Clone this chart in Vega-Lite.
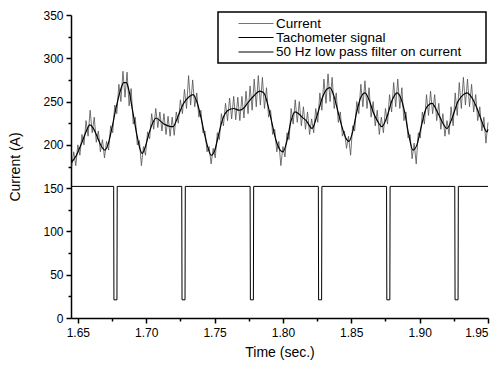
{
"$schema": "https://vega.github.io/schema/vega-lite/v6.json",
"width": 417, "height": 303,
"autosize": {"type": "none"},
"padding": {"left": 71, "top": 15, "right": 12, "bottom": 51},
"background": "white",
"config": {"view": {"stroke": null}, "font": "Liberation Sans",
  "axis": {"grid": false, "domainColor": "black", "tickColor": "black", "labelColor": "black", "titleColor": "black", "domainWidth": 1.5, "tickWidth": 1.5},
  "legend": {"orient": "none", "legendX": 147, "legendY": -3, "title": null, "symbolType": "M-2.5,0H2.5", "symbolSize": 196, "labelFontSize": 13.5, "labelOffset": 12, "symbolOffset": 26, "padding": 4, "rowPadding": 0, "strokeColor": "black", "fillColor": "white", "labelColor": "black", "labelLimit": 0}},
"data": {"values": [
{"t":1.6455,"v":175,"s":"Current"},{"t":1.6470,"v":192,"s":"Current"},{"t":1.6485,"v":176,"s":"Current"},{"t":1.6500,"v":200,"s":"Current"},{"t":1.6515,"v":188,"s":"Current"},{"t":1.6530,"v":212,"s":"Current"},{"t":1.6545,"v":200,"s":"Current"},{"t":1.6560,"v":228,"s":"Current"},{"t":1.6575,"v":210,"s":"Current"},{"t":1.6590,"v":240,"s":"Current"},
{"t":1.6605,"v":214,"s":"Current"},{"t":1.6620,"v":232,"s":"Current"},{"t":1.6635,"v":203,"s":"Current"},{"t":1.6650,"v":216,"s":"Current"},{"t":1.6665,"v":192,"s":"Current"},{"t":1.6680,"v":206,"s":"Current"},{"t":1.6695,"v":185,"s":"Current"},{"t":1.6710,"v":204,"s":"Current"},{"t":1.6725,"v":194,"s":"Current"},{"t":1.6740,"v":222,"s":"Current"},
{"t":1.6755,"v":214,"s":"Current"},{"t":1.6770,"v":246,"s":"Current"},{"t":1.6785,"v":236,"s":"Current"},{"t":1.6800,"v":270,"s":"Current"},{"t":1.6815,"v":250,"s":"Current"},{"t":1.6830,"v":285,"s":"Current"},{"t":1.6845,"v":255,"s":"Current"},{"t":1.6860,"v":284,"s":"Current"},{"t":1.6875,"v":245,"s":"Current"},{"t":1.6890,"v":265,"s":"Current"},
{"t":1.6905,"v":224,"s":"Current"},{"t":1.6920,"v":232,"s":"Current"},{"t":1.6935,"v":200,"s":"Current"},{"t":1.6950,"v":205,"s":"Current"},{"t":1.6965,"v":176,"s":"Current"},{"t":1.6980,"v":198,"s":"Current"},{"t":1.6995,"v":188,"s":"Current"},{"t":1.7010,"v":215,"s":"Current"},{"t":1.7025,"v":207,"s":"Current"},{"t":1.7040,"v":236,"s":"Current"},
{"t":1.7055,"v":218,"s":"Current"},{"t":1.7070,"v":242,"s":"Current"},{"t":1.7085,"v":220,"s":"Current"},{"t":1.7100,"v":238,"s":"Current"},{"t":1.7115,"v":216,"s":"Current"},{"t":1.7130,"v":236,"s":"Current"},{"t":1.7145,"v":212,"s":"Current"},{"t":1.7160,"v":233,"s":"Current"},{"t":1.7175,"v":210,"s":"Current"},{"t":1.7190,"v":232,"s":"Current"},
{"t":1.7205,"v":211,"s":"Current"},{"t":1.7220,"v":238,"s":"Current"},{"t":1.7235,"v":225,"s":"Current"},{"t":1.7250,"v":252,"s":"Current"},{"t":1.7265,"v":236,"s":"Current"},{"t":1.7280,"v":264,"s":"Current"},{"t":1.7295,"v":242,"s":"Current"},{"t":1.7310,"v":280,"s":"Current"},{"t":1.7325,"v":246,"s":"Current"},{"t":1.7340,"v":275,"s":"Current"},
{"t":1.7355,"v":244,"s":"Current"},{"t":1.7370,"v":260,"s":"Current"},{"t":1.7385,"v":232,"s":"Current"},{"t":1.7400,"v":240,"s":"Current"},{"t":1.7415,"v":214,"s":"Current"},{"t":1.7430,"v":216,"s":"Current"},{"t":1.7445,"v":192,"s":"Current"},{"t":1.7460,"v":198,"s":"Current"},{"t":1.7475,"v":178,"s":"Current"},{"t":1.7490,"v":196,"s":"Current"},
{"t":1.7505,"v":185,"s":"Current"},{"t":1.7520,"v":214,"s":"Current"},{"t":1.7535,"v":206,"s":"Current"},{"t":1.7550,"v":236,"s":"Current"},{"t":1.7565,"v":222,"s":"Current"},{"t":1.7580,"v":248,"s":"Current"},{"t":1.7595,"v":228,"s":"Current"},{"t":1.7610,"v":254,"s":"Current"},{"t":1.7625,"v":230,"s":"Current"},{"t":1.7640,"v":256,"s":"Current"},
{"t":1.7655,"v":229,"s":"Current"},{"t":1.7670,"v":255,"s":"Current"},{"t":1.7685,"v":228,"s":"Current"},{"t":1.7700,"v":256,"s":"Current"},{"t":1.7715,"v":231,"s":"Current"},{"t":1.7730,"v":262,"s":"Current"},{"t":1.7745,"v":236,"s":"Current"},{"t":1.7760,"v":268,"s":"Current"},{"t":1.7775,"v":240,"s":"Current"},{"t":1.7790,"v":276,"s":"Current"},
{"t":1.7805,"v":244,"s":"Current"},{"t":1.7820,"v":280,"s":"Current"},{"t":1.7835,"v":246,"s":"Current"},{"t":1.7850,"v":278,"s":"Current"},{"t":1.7865,"v":242,"s":"Current"},{"t":1.7880,"v":266,"s":"Current"},{"t":1.7895,"v":232,"s":"Current"},{"t":1.7910,"v":240,"s":"Current"},{"t":1.7925,"v":212,"s":"Current"},{"t":1.7940,"v":218,"s":"Current"},
{"t":1.7955,"v":192,"s":"Current"},{"t":1.7970,"v":204,"s":"Current"},{"t":1.7985,"v":176,"s":"Current"},{"t":1.8000,"v":198,"s":"Current"},{"t":1.8015,"v":186,"s":"Current"},{"t":1.8030,"v":214,"s":"Current"},{"t":1.8045,"v":206,"s":"Current"},{"t":1.8060,"v":242,"s":"Current"},{"t":1.8075,"v":224,"s":"Current"},{"t":1.8090,"v":252,"s":"Current"},
{"t":1.8105,"v":226,"s":"Current"},{"t":1.8120,"v":250,"s":"Current"},{"t":1.8135,"v":222,"s":"Current"},{"t":1.8150,"v":244,"s":"Current"},{"t":1.8165,"v":218,"s":"Current"},{"t":1.8180,"v":238,"s":"Current"},{"t":1.8195,"v":212,"s":"Current"},{"t":1.8210,"v":230,"s":"Current"},{"t":1.8225,"v":214,"s":"Current"},{"t":1.8240,"v":242,"s":"Current"},
{"t":1.8255,"v":226,"s":"Current"},{"t":1.8270,"v":260,"s":"Current"},{"t":1.8285,"v":240,"s":"Current"},{"t":1.8300,"v":276,"s":"Current"},{"t":1.8315,"v":248,"s":"Current"},{"t":1.8330,"v":282,"s":"Current"},{"t":1.8345,"v":250,"s":"Current"},{"t":1.8360,"v":278,"s":"Current"},{"t":1.8375,"v":242,"s":"Current"},{"t":1.8390,"v":260,"s":"Current"},
{"t":1.8405,"v":226,"s":"Current"},{"t":1.8420,"v":238,"s":"Current"},{"t":1.8435,"v":210,"s":"Current"},{"t":1.8450,"v":216,"s":"Current"},{"t":1.8465,"v":196,"s":"Current"},{"t":1.8480,"v":210,"s":"Current"},{"t":1.8495,"v":188,"s":"Current"},{"t":1.8510,"v":222,"s":"Current"},{"t":1.8525,"v":216,"s":"Current"},{"t":1.8540,"v":250,"s":"Current"},
{"t":1.8555,"v":236,"s":"Current"},{"t":1.8570,"v":270,"s":"Current"},{"t":1.8585,"v":244,"s":"Current"},{"t":1.8600,"v":274,"s":"Current"},{"t":1.8615,"v":242,"s":"Current"},{"t":1.8630,"v":266,"s":"Current"},{"t":1.8645,"v":232,"s":"Current"},{"t":1.8660,"v":250,"s":"Current"},{"t":1.8675,"v":222,"s":"Current"},{"t":1.8690,"v":240,"s":"Current"},
{"t":1.8705,"v":212,"s":"Current"},{"t":1.8720,"v":232,"s":"Current"},{"t":1.8735,"v":214,"s":"Current"},{"t":1.8750,"v":242,"s":"Current"},{"t":1.8765,"v":224,"s":"Current"},{"t":1.8780,"v":258,"s":"Current"},{"t":1.8795,"v":238,"s":"Current"},{"t":1.8810,"v":272,"s":"Current"},{"t":1.8825,"v":244,"s":"Current"},{"t":1.8840,"v":276,"s":"Current"},
{"t":1.8855,"v":242,"s":"Current"},{"t":1.8870,"v":266,"s":"Current"},{"t":1.8885,"v":228,"s":"Current"},{"t":1.8900,"v":238,"s":"Current"},{"t":1.8915,"v":208,"s":"Current"},{"t":1.8930,"v":212,"s":"Current"},{"t":1.8945,"v":184,"s":"Current"},{"t":1.8960,"v":202,"s":"Current"},{"t":1.8975,"v":178,"s":"Current"},{"t":1.8990,"v":214,"s":"Current"},
{"t":1.9005,"v":208,"s":"Current"},{"t":1.9020,"v":238,"s":"Current"},{"t":1.9035,"v":224,"s":"Current"},{"t":1.9050,"v":258,"s":"Current"},{"t":1.9065,"v":234,"s":"Current"},{"t":1.9080,"v":262,"s":"Current"},{"t":1.9095,"v":236,"s":"Current"},{"t":1.9110,"v":258,"s":"Current"},{"t":1.9125,"v":228,"s":"Current"},{"t":1.9140,"v":248,"s":"Current"},
{"t":1.9155,"v":218,"s":"Current"},{"t":1.9170,"v":236,"s":"Current"},{"t":1.9185,"v":210,"s":"Current"},{"t":1.9200,"v":228,"s":"Current"},{"t":1.9215,"v":212,"s":"Current"},{"t":1.9230,"v":244,"s":"Current"},{"t":1.9245,"v":222,"s":"Current"},{"t":1.9260,"v":260,"s":"Current"},{"t":1.9275,"v":234,"s":"Current"},{"t":1.9290,"v":272,"s":"Current"},
{"t":1.9305,"v":242,"s":"Current"},{"t":1.9320,"v":278,"s":"Current"},{"t":1.9335,"v":246,"s":"Current"},{"t":1.9350,"v":276,"s":"Current"},{"t":1.9365,"v":244,"s":"Current"},{"t":1.9380,"v":270,"s":"Current"},{"t":1.9395,"v":238,"s":"Current"},{"t":1.9410,"v":258,"s":"Current"},{"t":1.9425,"v":228,"s":"Current"},{"t":1.9440,"v":244,"s":"Current"},
{"t":1.9455,"v":216,"s":"Current"},{"t":1.9470,"v":232,"s":"Current"},{"t":1.9485,"v":202,"s":"Current"},{"t":1.9500,"v":226,"s":"Current"},
{"t":1.6455,"v":152,"s":"Tachometer signal"},{"t":1.6762,"v":152,"s":"Tachometer signal"},{"t":1.6764,"v":21,"s":"Tachometer signal"},{"t":1.6786,"v":21,"s":"Tachometer signal"},{"t":1.6788,"v":152,"s":"Tachometer signal"},
{"t":1.7260,"v":152,"s":"Tachometer signal"},{"t":1.7262,"v":21,"s":"Tachometer signal"},{"t":1.7284,"v":21,"s":"Tachometer signal"},{"t":1.7286,"v":152,"s":"Tachometer signal"},
{"t":1.7760,"v":152,"s":"Tachometer signal"},{"t":1.7762,"v":21,"s":"Tachometer signal"},{"t":1.7784,"v":21,"s":"Tachometer signal"},{"t":1.7786,"v":152,"s":"Tachometer signal"},
{"t":1.8259,"v":152,"s":"Tachometer signal"},{"t":1.8261,"v":21,"s":"Tachometer signal"},{"t":1.8283,"v":21,"s":"Tachometer signal"},{"t":1.8285,"v":152,"s":"Tachometer signal"},
{"t":1.8758,"v":152,"s":"Tachometer signal"},{"t":1.8760,"v":21,"s":"Tachometer signal"},{"t":1.8782,"v":21,"s":"Tachometer signal"},{"t":1.8784,"v":152,"s":"Tachometer signal"},
{"t":1.9257,"v":152,"s":"Tachometer signal"},{"t":1.9259,"v":21,"s":"Tachometer signal"},{"t":1.9281,"v":21,"s":"Tachometer signal"},{"t":1.9283,"v":152,"s":"Tachometer signal"},{"t":1.9500,"v":152,"s":"Tachometer signal"},
{"t":1.6455,"v":180,"s":"50 Hz low pass filter on current"},{"t":1.6490,"v":188,"s":"50 Hz low pass filter on current"},{"t":1.6530,"v":203,"s":"50 Hz low pass filter on current"},{"t":1.6560,"v":215,"s":"50 Hz low pass filter on current"},{"t":1.6588,"v":223,"s":"50 Hz low pass filter on current"},{"t":1.6610,"v":220,"s":"50 Hz low pass filter on current"},{"t":1.6640,"v":210,"s":"50 Hz low pass filter on current"},{"t":1.6670,"v":199,"s":"50 Hz low pass filter on current"},{"t":1.6697,"v":194,"s":"50 Hz low pass filter on current"},{"t":1.6720,"v":200,"s":"50 Hz low pass filter on current"},
{"t":1.6750,"v":220,"s":"50 Hz low pass filter on current"},{"t":1.6780,"v":243,"s":"50 Hz low pass filter on current"},{"t":1.6810,"v":262,"s":"50 Hz low pass filter on current"},{"t":1.6835,"v":272,"s":"50 Hz low pass filter on current"},{"t":1.6855,"v":272,"s":"50 Hz low pass filter on current"},{"t":1.6875,"v":262,"s":"50 Hz low pass filter on current"},{"t":1.6900,"v":240,"s":"50 Hz low pass filter on current"},{"t":1.6930,"v":213,"s":"50 Hz low pass filter on current"},{"t":1.6955,"v":195,"s":"50 Hz low pass filter on current"},{"t":1.6970,"v":190,"s":"50 Hz low pass filter on current"},
{"t":1.6990,"v":196,"s":"50 Hz low pass filter on current"},{"t":1.7020,"v":213,"s":"50 Hz low pass filter on current"},{"t":1.7050,"v":226,"s":"50 Hz low pass filter on current"},{"t":1.7072,"v":231,"s":"50 Hz low pass filter on current"},{"t":1.7100,"v":228,"s":"50 Hz low pass filter on current"},{"t":1.7130,"v":224,"s":"50 Hz low pass filter on current"},{"t":1.7160,"v":222,"s":"50 Hz low pass filter on current"},{"t":1.7197,"v":221,"s":"50 Hz low pass filter on current"},{"t":1.7230,"v":232,"s":"50 Hz low pass filter on current"},{"t":1.7270,"v":247,"s":"50 Hz low pass filter on current"},
{"t":1.7310,"v":255,"s":"50 Hz low pass filter on current"},{"t":1.7343,"v":258,"s":"50 Hz low pass filter on current"},{"t":1.7370,"v":250,"s":"50 Hz low pass filter on current"},{"t":1.7400,"v":232,"s":"50 Hz low pass filter on current"},{"t":1.7430,"v":210,"s":"50 Hz low pass filter on current"},{"t":1.7455,"v":195,"s":"50 Hz low pass filter on current"},{"t":1.7474,"v":188,"s":"50 Hz low pass filter on current"},{"t":1.7500,"v":193,"s":"50 Hz low pass filter on current"},{"t":1.7530,"v":212,"s":"50 Hz low pass filter on current"},{"t":1.7560,"v":230,"s":"50 Hz low pass filter on current"},
{"t":1.7599,"v":240,"s":"50 Hz low pass filter on current"},{"t":1.7640,"v":242,"s":"50 Hz low pass filter on current"},{"t":1.7680,"v":240,"s":"50 Hz low pass filter on current"},{"t":1.7710,"v":242,"s":"50 Hz low pass filter on current"},{"t":1.7750,"v":250,"s":"50 Hz low pass filter on current"},{"t":1.7790,"v":257,"s":"50 Hz low pass filter on current"},{"t":1.7830,"v":262,"s":"50 Hz low pass filter on current"},{"t":1.7860,"v":260,"s":"50 Hz low pass filter on current"},{"t":1.7890,"v":246,"s":"50 Hz low pass filter on current"},{"t":1.7920,"v":225,"s":"50 Hz low pass filter on current"},
{"t":1.7950,"v":205,"s":"50 Hz low pass filter on current"},{"t":1.7980,"v":194,"s":"50 Hz low pass filter on current"},{"t":1.8001,"v":192,"s":"50 Hz low pass filter on current"},{"t":1.8030,"v":205,"s":"50 Hz low pass filter on current"},{"t":1.8060,"v":228,"s":"50 Hz low pass filter on current"},{"t":1.8089,"v":238,"s":"50 Hz low pass filter on current"},{"t":1.8115,"v":236,"s":"50 Hz low pass filter on current"},{"t":1.8140,"v":232,"s":"50 Hz low pass filter on current"},{"t":1.8170,"v":228,"s":"50 Hz low pass filter on current"},{"t":1.8213,"v":219,"s":"50 Hz low pass filter on current"},
{"t":1.8250,"v":234,"s":"50 Hz low pass filter on current"},{"t":1.8290,"v":255,"s":"50 Hz low pass filter on current"},{"t":1.8320,"v":264,"s":"50 Hz low pass filter on current"},{"t":1.8344,"v":266,"s":"50 Hz low pass filter on current"},{"t":1.8370,"v":258,"s":"50 Hz low pass filter on current"},{"t":1.8400,"v":240,"s":"50 Hz low pass filter on current"},{"t":1.8430,"v":222,"s":"50 Hz low pass filter on current"},{"t":1.8460,"v":208,"s":"50 Hz low pass filter on current"},{"t":1.8483,"v":204,"s":"50 Hz low pass filter on current"},{"t":1.8510,"v":215,"s":"50 Hz low pass filter on current"},
{"t":1.8540,"v":238,"s":"50 Hz low pass filter on current"},{"t":1.8570,"v":255,"s":"50 Hz low pass filter on current"},{"t":1.8600,"v":260,"s":"50 Hz low pass filter on current"},{"t":1.8630,"v":252,"s":"50 Hz low pass filter on current"},{"t":1.8660,"v":238,"s":"50 Hz low pass filter on current"},{"t":1.8690,"v":228,"s":"50 Hz low pass filter on current"},{"t":1.8724,"v":221,"s":"50 Hz low pass filter on current"},{"t":1.8760,"v":232,"s":"50 Hz low pass filter on current"},{"t":1.8800,"v":252,"s":"50 Hz low pass filter on current"},{"t":1.8834,"v":260,"s":"50 Hz low pass filter on current"},
{"t":1.8860,"v":255,"s":"50 Hz low pass filter on current"},{"t":1.8890,"v":238,"s":"50 Hz low pass filter on current"},{"t":1.8920,"v":212,"s":"50 Hz low pass filter on current"},{"t":1.8951,"v":194,"s":"50 Hz low pass filter on current"},{"t":1.8980,"v":200,"s":"50 Hz low pass filter on current"},{"t":1.9010,"v":220,"s":"50 Hz low pass filter on current"},{"t":1.9050,"v":243,"s":"50 Hz low pass filter on current"},{"t":1.9090,"v":248,"s":"50 Hz low pass filter on current"},{"t":1.9130,"v":238,"s":"50 Hz low pass filter on current"},{"t":1.9170,"v":225,"s":"50 Hz low pass filter on current"},
{"t":1.9200,"v":219,"s":"50 Hz low pass filter on current"},{"t":1.9240,"v":232,"s":"50 Hz low pass filter on current"},{"t":1.9280,"v":250,"s":"50 Hz low pass filter on current"},{"t":1.9320,"v":258,"s":"50 Hz low pass filter on current"},{"t":1.9346,"v":260,"s":"50 Hz low pass filter on current"},{"t":1.9380,"v":255,"s":"50 Hz low pass filter on current"},{"t":1.9420,"v":242,"s":"50 Hz low pass filter on current"},{"t":1.9460,"v":225,"s":"50 Hz low pass filter on current"},{"t":1.9492,"v":215,"s":"50 Hz low pass filter on current"},{"t":1.9500,"v":218,"s":"50 Hz low pass filter on current"}
]},
"layer": [
 {"transform": [{"filter": "datum.s === 'Current'"}],
  "mark": {"type": "line"},
  "encoding": {
   "x": {"field": "t", "type": "quantitative", "scale": {"domain": [1.645, 1.95], "nice": false, "zero": false},
     "axis": {"values": [1.65, 1.7, 1.75, 1.8, 1.85, 1.9, 1.95], "format": ".2f", "tickSize": 5, "labelFontSize": 12, "labelPadding": 4, "title": "Time (sec.)", "titleFontSize": 14, "titleFontWeight": "normal", "titlePadding": 7}},
   "y": {"field": "v", "type": "quantitative", "scale": {"domain": [0, 350], "nice": false},
     "axis": {"values": [0, 50, 100, 150, 200, 250, 300, 350], "tickSize": 5, "labelFontSize": 12, "labelPadding": 3, "title": "Current (A)", "titleFontSize": 14, "titleFontWeight": "normal", "titlePadding": 20}},
   "color": {"field": "s", "type": "nominal", "scale": {"domain": ["Current", "Tachometer signal", "50 Hz low pass filter on current"], "range": ["#505050", "#000000", "#000000"]},
     "legend": {"labelExpr": "datum.label + '\u2800\u2800'", "encode": {"legend": {"update": {"strokeWidth": {"value": 1.5}}}}}},
   "strokeWidth": {"field": "s", "type": "nominal", "scale": {"domain": ["Current", "Tachometer signal", "50 Hz low pass filter on current"], "range": [0.8, 1.2, 2.2]},
     "legend": {"labelExpr": "datum.label + '\u2800\u2800'", "encode": {"legend": {"update": {"strokeWidth": {"value": 1.5}}}}}}
  }},
 {"transform": [{"filter": "datum.s === 'Tachometer signal'"}],
  "mark": {"type": "line"},
  "encoding": {
   "x": {"field": "t", "type": "quantitative", "axis": null},
   "y": {"field": "v", "type": "quantitative", "axis": null},
   "color": {"field": "s", "type": "nominal"},
   "strokeWidth": {"field": "s", "type": "nominal"}
  }},
 {"transform": [{"filter": "datum.s === '50 Hz low pass filter on current'"}],
  "mark": {"type": "line", "interpolate": "monotone"},
  "encoding": {
   "x": {"field": "t", "type": "quantitative", "axis": null},
   "y": {"field": "v", "type": "quantitative", "axis": null},
   "color": {"field": "s", "type": "nominal"},
   "strokeWidth": {"field": "s", "type": "nominal"}
  }},
 {"transform": [{"filter": "datum.s === 'Tachometer signal'"}],
  "mark": {"type": "point", "opacity": 0},
  "encoding": {
   "x": {"field": "t", "type": "quantitative", "axis": {"orient": "bottom", "values": [1.675, 1.725, 1.775, 1.825, 1.875, 1.925], "labels": false, "domain": false, "tickSize": 3, "title": null}},
   "y": {"field": "v", "type": "quantitative", "axis": {"orient": "left", "values": [25, 75, 125, 175, 225, 275, 325], "labels": false, "domain": false, "tickSize": 3, "title": null}}
  }}
],
"resolve": {"axis": {"x": "independent", "y": "independent"}}
}
